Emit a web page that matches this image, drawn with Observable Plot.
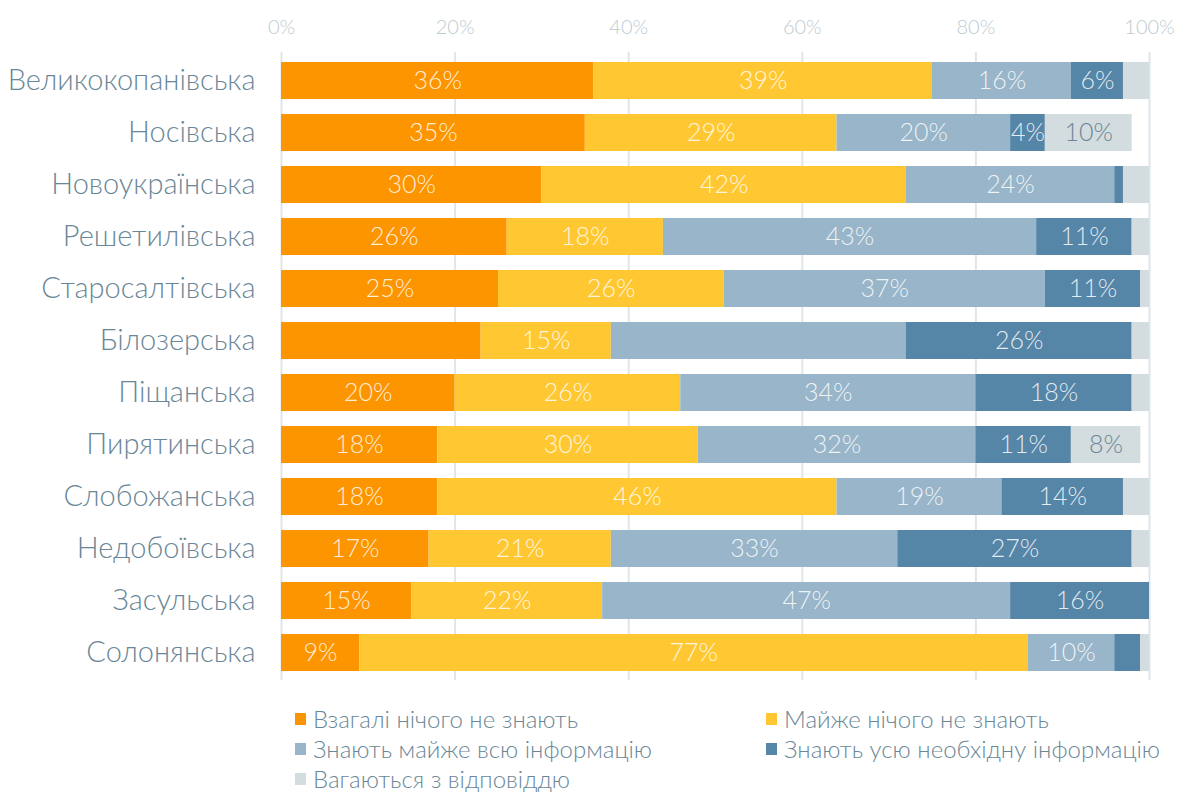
<!DOCTYPE html>
<html>
<head>
<meta charset="utf-8">
<script src="https://cdn.jsdelivr.net/npm/d3@7"></script>
<script src="https://cdn.jsdelivr.net/npm/@observablehq/plot@0.6"></script>
<style>
  html, body { margin: 0; padding: 0; background: #fff; }
  body { width: 1180px; height: 794px; overflow: hidden; font-family: Lato, "Open Sans", sans-serif; }
  #chart svg { display: block; font-family: Lato, sans-serif; font-weight: 300; }
  g[aria-label="y-axis tick label"] { font-size: 29px; fill: #6a8797; font-weight: 300; }
  g[aria-label="x-axis tick label"] { font-size: 20px; fill: #bccbd1; font-weight: 300; }
  .legend { display: grid; grid-template-columns: 471px 420px; margin-left: 295px; padding-top: 14px; row-gap: 0; }
  .legend .item { display: flex; align-items: center; height: 30px; line-height: 30px; font-size: 24px; color: #6a8797; font-weight: 300; white-space: nowrap; }
  .legend .sw { width: 11px; height: 12px; margin-right: 7px; flex: none; }
</style>
</head>
<body>
<div id="chart"></div>
<div class="legend" id="legend"></div>
<script>
const regions = ["Великокопанівська","Носівська","Новоукраїнська","Решетилівська","Старосалтівська","Білозерська","Піщанська","Пирятинська","Слобожанська","Недобоївська","Засульська","Солонянська"];
const series = ["Взагалі нічого не знають","Майже нічого не знають","Знають майже всю інформацію","Знають усю необхідну інформацію","Вагаються з відповіддю"];
const colors = ["#fd9500","#ffc832","#98b5c9","#5585a7","#d3dcdf"];
const nothing      = [36,35,30,26,25,23,20,18,18,17,15,9];
const almostNothing= [39,29,42,18,26,15,26,30,46,21,22,77];
const almostAll    = [16,20,24,43,37,34,34,32,19,33,47,10];
const allNeeded    = [6,4,1,11,11,26,18,11,14,27,16,3];
const hesitate     = [3,10,3,2,1,2,2,8,3,2,0,1];
const xTicks = [0,20,40,60,80,100];
// labels not shown in the original
const hiddenLabels = [["Білозерська",0],["Білозерська",2]];
const minLabel = 4;

const valuesBySeries = [nothing, almostNothing, almostAll, allNeeded, hesitate];
const data = [];
regions.forEach((r, i) => {
  valuesBySeries.forEach((vals, s) => {
    const hidden = hiddenLabels.some(([hr, hs]) => hr === r && hs === s);
    data.push({region: r, series: series[s], si: s, value: vals[i], show: !hidden && vals[i] >= minLabel});
  });
});

const chart = Plot.plot({
  width: 1180,
  height: 690,
  marginLeft: 281,
  marginRight: 31,
  marginTop: 52,
  marginBottom: 10,
  x: {domain: [0, 100], label: null},
  y: {domain: regions, paddingInner: 0.29, paddingOuter: 0.17, label: null},
  color: {domain: series, range: colors},
  marks: [
    Plot.ruleX(xTicks, {stroke: "#dfe6e9", strokeWidth: 2}),
    Plot.barX(data, Plot.stackX({x: "value", y: "region", fill: "series"})),
    Plot.text(data, Plot.stackX({
      x: "value", y: "region",
      text: d => (d.show && d.si < 4) ? d.value + "%" : "",
      fill: "#ffffff", fillOpacity: 0.85, fontSize: 25, fontWeight: 300, fontFamily: "Lato"
    })),
    Plot.text(data, Plot.stackX({
      x: "value", y: "region",
      text: d => (d.show && d.si === 4) ? d.value + "%" : "",
      fill: "#6c8696", fontSize: 25, fontWeight: 300, fontFamily: "Lato"
    })),
    Plot.axisX(xTicks, {anchor: "top", tickSize: 0, tickPadding: 19, tickFormat: d => d + "%", label: null}),
    Plot.axisY({tickSize: 0, tickPadding: 26, label: null})
  ]
});
document.getElementById("chart").appendChild(chart);

const legend = document.getElementById("legend");
series.forEach((s, i) => {
  const item = document.createElement("div");
  item.className = "item";
  const sw = document.createElement("span");
  sw.className = "sw";
  sw.style.background = colors[i];
  const t = document.createElement("span");
  t.textContent = s;
  item.appendChild(sw);
  item.appendChild(t);
  legend.appendChild(item);
});
</script>
</body>
</html>
